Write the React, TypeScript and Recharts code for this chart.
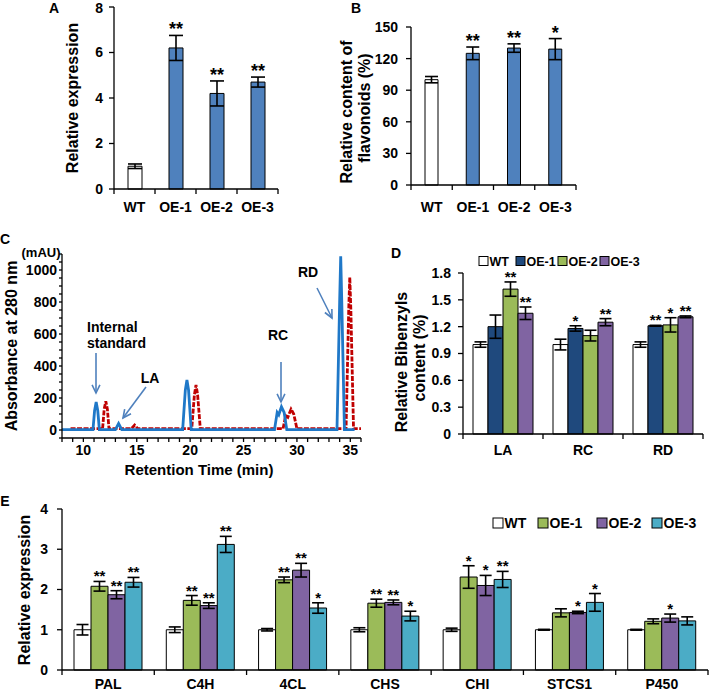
import React from 'react'
import { BarChart, Bar, XAxis, YAxis, ErrorBar, LabelList, LineChart, Line, Cell } from 'recharts'

const FONT = '"Liberation Sans", Arial, Helvetica, sans-serif'

// Panel A: relative expression of the transgene
const lines = ['WT', 'OE-1', 'OE-2', 'OE-3']
const aValues = [1.0, 6.2, 4.2, 4.7]
const aErrors = [0.1, 0.55, 0.55, 0.22]
const aStars = ['', '**', '**', '**']
const aTicks = [0, 2, 4, 6, 8]

// Panel B: relative content of flavonoids (%)
const bValues = [100, 125, 130, 129]
const bErrors = [3, 6, 4, 10]
const bStars = ['', '**', '**', '*']
const bTicks = [0, 30, 60, 90, 120, 150]

// Panel C: HPLC chromatogram, WT (solid) and OE (dashed)
const blueTime = [8.0, 10.9, 11.05, 11.2, 11.35, 11.5, 13.0, 13.3, 13.6, 19.3, 19.55, 19.7, 19.85, 20.1, 27.9, 28.15, 28.3, 28.55, 28.8, 29.05, 33.75, 34.0, 34.1, 34.2, 34.45, 35.4]
const blueAbs = [2, 2, 120, 175, 120, 2, 2, 40, 2, 2, 250, 312, 250, 2, 2, 110, 95, 145, 110, 2, 2, 800, 1085, 800, 2, 2]
const redTime = [8.8, 11.8, 11.95, 12.1, 12.25, 12.4, 14.5, 14.8, 15.1, 20.15, 20.4, 20.55, 20.7, 20.95, 28.7, 28.95, 29.15, 29.45, 29.7, 30.0, 34.6, 34.85, 34.95, 35.05, 35.3, 36.0]
const redAbs = [8, 8, 130, 180, 130, 8, 8, 30, 8, 8, 220, 282, 220, 8, 8, 90, 80, 130, 100, 8, 8, 750, 955, 750, 8, 8]
const cXTicks = [8, 9, 10, 11, 12, 13, 14, 15, 16, 17, 18, 19, 20, 21, 22, 23, 24, 25, 26, 27, 28, 29, 30, 31, 32, 33, 34, 35, 36]
const cYTicks = [-50, 0, 50, 100, 150, 200, 250, 300, 350, 400, 450, 500, 550, 600, 650, 700, 750, 800, 850, 900, 950, 1000, 1050, 1100]

// Panel D: relative bibenzyls content (%)
const compounds = ['LA', 'RC', 'RD']
const dWT = [1.0, 1.0, 1.0]
const dWTErr = [0.03, 0.06, 0.03]
const dOE1 = [1.2, 1.18, 1.21]
const dOE1Err = [0.13, 0.03, 0.005]
const dOE1Stars = ['', '*', '**']
const dOE2 = [1.62, 1.1, 1.22]
const dOE2Err = [0.08, 0.06, 0.08]
const dOE2Stars = ['**', '', '*']
const dOE3 = [1.35, 1.25, 1.31]
const dOE3Err = [0.07, 0.04, 0.01]
const dOE3Stars = ['**', '**', '**']
const dTicks = [0, 0.3, 0.6, 0.9, 1.2, 1.5, 1.8]

// Panel E: relative expression of pathway genes
const genes = ['PAL', 'C4H', '4CL', 'CHS', 'CHI', 'STCS1', 'P450']
const eWT = [1, 1, 1, 1, 1, 1, 1]
const eWTErr = [0.13, 0.07, 0.03, 0.05, 0.04, 0.01, 0.01]
const eOE1 = [2.08, 1.73, 2.24, 1.66, 2.31, 1.42, 1.21]
const eOE1Err = [0.12, 0.12, 0.07, 0.1, 0.28, 0.1, 0.06]
const eOE1Stars = ['**', '**', '**', '**', '*', '', '']
const eOE2 = [1.87, 1.6, 2.48, 1.68, 2.1, 1.43, 1.29]
const eOE2Err = [0.1, 0.07, 0.17, 0.06, 0.25, 0.03, 0.1]
const eOE2Stars = ['**', '**', '**', '**', '*', '*', '*']
const eOE3 = [2.18, 3.12, 1.54, 1.34, 2.25, 1.68, 1.22]
const eOE3Err = [0.12, 0.2, 0.13, 0.12, 0.2, 0.22, 0.1]
const eOE3Stars = ['**', '**', '*', '*', '**', '*', '']
const eTicks = [0, 1, 2, 3, 4]

const aData = lines.map((name, i) => ({ name, v: aValues[i], e: aErrors[i] }))
const bData = lines.map((name, i) => ({ name, v: bValues[i], e: bErrors[i] }))
const blueData = blueTime.map((t, i) => ({ t, a: blueAbs[i] }))
const redData = redTime.map((t, i) => ({ t, a: redAbs[i] }))
const dData = compounds.map((name, i) => ({
  name,
  wt: dWT[i], wtE: dWTErr[i],
  oe1: dOE1[i], oe1E: dOE1Err[i],
  oe2: dOE2[i], oe2E: dOE2Err[i],
  oe3: dOE3[i], oe3E: dOE3Err[i],
}))
const eData = genes.map((name, i) => ({
  name,
  wt: eWT[i], wtE: eWTErr[i],
  oe1: eOE1[i], oe1E: eOE1Err[i],
  oe2: eOE2[i], oe2E: eOE2Err[i],
  oe3: eOE3[i], oe3E: eOE3Err[i],
}))

const W = 709
const H = 693
const BLUE = '#4F81BD'
const NAVY = '#1F497D'
const GREEN = '#9BBB59'
const PURPLE = '#8064A2'
const CYAN = '#4BACC6'
const ARROW = '#4F81BD'

const axisLine = { stroke: '#000', strokeWidth: 1.3 }
const tickLineStyle = { stroke: '#000', strokeWidth: 1.3 }
const tickFont = { fill: '#000', fontSize: 14, fontWeight: 700, fontFamily: FONT }
const boldText = { fill: '#000', fontWeight: 700, fontFamily: FONT }

function catTick(band: number, count: number, dy: number) {
  return (props: any) => {
    const { x, y, payload, index } = props
    const left = x - band / 2
    return (
      <g>
        <line x1={left} x2={left} y1={y} y2={y + 5} stroke="#000" strokeWidth={1.3} />
        {index === count - 1 && (
          <line x1={left + band} x2={left + band} y1={y} y2={y + 5} stroke="#000" strokeWidth={1.3} />
        )}
        <text x={x} y={y + dy} textAnchor="middle" fontSize={14} {...boldText}>
          {payload.value}
        </text>
      </g>
    )
  }
}

function starLabel(errs: number[], stars: string[], fontSize: number) {
  return (props: any) => {
    const vb = props.viewBox || props
    const { x, y, width, height } = vb
    const { value, index } = props
    const s = stars[index]
    if (!s || !value) return null
    const top = y - (errs[index] * height) / value
    return (
      <text x={x + width / 2} y={top} textAnchor="middle" fontSize={fontSize} {...boldText}>
        {s}
      </text>
    )
  }
}

function PanelA() {
  return (
    <BarChart width={W} height={H} data={aData} margin={{ top: 7, left: 74, right: 431, bottom: 484 }}>
      <XAxis dataKey="name" height={20} axisLine={axisLine} tickLine={false} tickSize={0} tickMargin={0}
        tick={catTick(41, 4, 23)} interval={0} />
      <YAxis width={40} domain={[0, 8]} ticks={aTicks} axisLine={axisLine} tickLine={tickLineStyle}
        tickSize={5} tickMargin={6} tick={tickFont} />
      <Bar dataKey="v" barSize={14} isAnimationActive={false} stroke="#000" strokeWidth={1}>
        {aData.map((d, i) => (
          <Cell key={d.name} fill={i === 0 ? '#FFFFFF' : BLUE} />
        ))}
        <ErrorBar dataKey="e" width={7} stroke="#000" strokeWidth={1.6} isAnimationActive={false} />
        <LabelList dataKey="v" content={starLabel(aErrors, aStars, 18)} />
      </Bar>
    </BarChart>
  )
}

function PanelB() {
  return (
    <BarChart width={W} height={H} data={bData} margin={{ top: 27, left: 371, right: 133, bottom: 488 }}>
      <XAxis dataKey="name" height={20} axisLine={axisLine} tickLine={false} tickSize={0} tickMargin={0}
        tick={catTick(41.25, 4, 27)} interval={0} />
      <YAxis width={40} domain={[0, 150]} ticks={bTicks} axisLine={axisLine} tickLine={tickLineStyle}
        tickSize={5} tickMargin={8} tick={tickFont} />
      <Bar dataKey="v" barSize={13} isAnimationActive={false} stroke="#000" strokeWidth={1}>
        {bData.map((d, i) => (
          <Cell key={d.name} fill={i === 0 ? '#FFFFFF' : BLUE} />
        ))}
        <ErrorBar dataKey="e" width={6.5} stroke="#000" strokeWidth={1.6} isAnimationActive={false} />
        <LabelList dataKey="v" content={starLabel(bErrors, bStars, 18)} />
      </Bar>
    </BarChart>
  )
}

const CXTick = (props: any) => {
  const { x, y, payload } = props
  if (payload.value % 5 !== 0) return null
  return (
    <text x={x} y={y + 11} textAnchor="middle" fontSize={14} {...boldText}>
      {payload.value}
    </text>
  )
}

const CYTick = (props: any) => {
  const { x, y, payload } = props
  if (payload.value < 0 || payload.value % 200 !== 0) return null
  return (
    <text x={x} y={y} dy="0.355em" textAnchor="end" fontSize={14} {...boldText}>
      {payload.value}
    </text>
  )
}

function PanelC() {
  return (
    <LineChart width={W} height={H} margin={{ top: 254, left: 22, right: 348, bottom: 235 }}>
      <XAxis type="number" dataKey="t" domain={[8, 36]} ticks={cXTicks} interval={0} height={20}
        axisLine={axisLine} tickLine={tickLineStyle} tickSize={4} tickMargin={2} tick={CXTick}
        allowDataOverflow />
      <YAxis type="number" width={40} domain={[-50, 1100]} ticks={cYTicks} interval={0}
        axisLine={axisLine} tickLine={tickLineStyle} tickSize={3} tickMargin={2} tick={CYTick}
        allowDataOverflow />
      <Line data={redData} dataKey="a" type="linear" stroke="#C00000" strokeWidth={2.8}
        strokeDasharray="5 1.5" dot={false} isAnimationActive={false} />
      <Line data={blueData} dataKey="a" type="linear" stroke="#1F78C8" strokeWidth={2.8}
        dot={false} isAnimationActive={false} />
    </LineChart>
  )
}

function groupedBars(
  colors: string[],
  errs: number[][],
  stars: string[][],
  barSize: number,
  starSize: number,
  capWidth: number,
) {
  const keys = ['wt', 'oe1', 'oe2', 'oe3']
  return keys.map((k, j) => (
    <Bar key={k} dataKey={k} fill={colors[j]} barSize={barSize} isAnimationActive={false}
      stroke="#000" strokeWidth={1}>
      <ErrorBar dataKey={k + 'E'} width={capWidth} stroke="#000" strokeWidth={1.6} isAnimationActive={false} />
      <LabelList dataKey={k} content={starLabel(errs[j], stars[j], starSize)} />
    </Bar>
  ))
}

function PanelD() {
  const none = compounds.map(() => '')
  return (
    <BarChart width={W} height={H} data={dData} barGap={0}
      margin={{ top: 273, left: 423, right: 6, bottom: 239 }}>
      <XAxis dataKey="name" height={20} axisLine={axisLine} tickLine={false} tickSize={0} tickMargin={0}
        tick={catTick(80, 3, 21)} interval={0} />
      <YAxis width={40} domain={[0, 1.8]} ticks={dTicks} axisLine={axisLine} tickLine={tickLineStyle}
        tickSize={5} tickMargin={7} tick={tickFont} />
      {groupedBars(['#FFFFFF', NAVY, GREEN, PURPLE], [dWTErr, dOE1Err, dOE2Err, dOE3Err],
        [none, dOE1Stars, dOE2Stars, dOE3Stars], 15, 15, 6)}
    </BarChart>
  )
}

function PanelE() {
  const none = genes.map(() => '')
  return (
    <BarChart width={W} height={H} data={eData} barGap={0}
      margin={{ top: 509, left: 22, right: 1, bottom: 3 }}>
      <XAxis dataKey="name" height={20} axisLine={axisLine} tickLine={false} tickSize={0} tickMargin={0}
        tick={catTick(646 / 7, 7, 19)} interval={0} />
      <YAxis width={40} domain={[0, 4]} ticks={eTicks} axisLine={axisLine} tickLine={tickLineStyle}
        tickSize={5} tickMargin={9} tick={tickFont} />
      {groupedBars(['#FFFFFF', GREEN, PURPLE, CYAN], [eWTErr, eOE1Err, eOE2Err, eOE3Err],
        [none, eOE1Stars, eOE2Stars, eOE3Stars], 17, 15, 6)}
    </BarChart>
  )
}

function LegendRow({ x, y, colors, fontSize, box }: { x: number[]; y: number; colors: string[]; fontSize: number; box: number }) {
  return (
    <g>
      {lines.map((name, i) => (
        <g key={name}>
          <rect x={x[i]} y={y - box / 2} width={box} height={box} fill={colors[i]} stroke="#000" strokeWidth={1} />
          <text x={x[i] + box + 1.5} y={y + fontSize * 0.36} fontSize={fontSize} {...boldText}>{name}</text>
        </g>
      ))}
    </g>
  )
}

function Arrow({ x1, y1, x2, y2 }: { x1: number; y1: number; x2: number; y2: number }) {
  const ang = Math.atan2(y2 - y1, x2 - x1)
  const len = 9
  const a1 = ang + Math.PI - 0.45
  const a2 = ang + Math.PI + 0.45
  return (
    <g stroke={ARROW} strokeWidth={1.6} fill="none">
      <line x1={x1} y1={y1} x2={x2} y2={y2} />
      <polyline points={`${x2 + len * Math.cos(a1)},${y2 + len * Math.sin(a1)} ${x2},${y2} ${x2 + len * Math.cos(a2)},${y2 + len * Math.sin(a2)}`} />
    </g>
  )
}

function Overlay() {
  return (
    <svg width={W} height={H} style={{ position: 'absolute', left: 0, top: 0 }}>
      {/* panel letters */}
      <text x={54} y={13} textAnchor="middle" fontSize={14} {...boldText}>A</text>
      <text x={356} y={13} textAnchor="middle" fontSize={14} {...boldText}>B</text>
      <text x={5} y={244} textAnchor="middle" fontSize={14} {...boldText}>C</text>
      <text x={396} y={258} textAnchor="middle" fontSize={14} {...boldText}>D</text>
      <text x={5} y={506} textAnchor="middle" fontSize={14} {...boldText}>E</text>

      {/* axis titles */}
      <text transform="translate(78,98) rotate(-90)" textAnchor="middle" fontSize={16} {...boldText}>Relative expression</text>
      <text transform="translate(352,112) rotate(-90)" textAnchor="middle" fontSize={16} {...boldText}>Relative content of</text>
      <text transform="translate(370,108) rotate(-90)" textAnchor="middle" fontSize={16} {...boldText}>flavonoids (%)</text>
      <text transform="translate(17,346) rotate(-90)" textAnchor="middle" fontSize={16} {...boldText}>Absorbance at 280 nm</text>
      <text x={199} y={475} textAnchor="middle" fontSize={15} {...boldText}>Retention Time (min)</text>
      <text x={41} y={257} textAnchor="middle" fontSize={13} {...boldText}>(mAU)</text>
      <text transform="translate(407,362) rotate(-90)" textAnchor="middle" fontSize={16} {...boldText}>Relative Bibenzyls</text>
      <text transform="translate(425,358) rotate(-90)" textAnchor="middle" fontSize={16} {...boldText}>content (%)</text>
      <text transform="translate(30,590) rotate(-90)" textAnchor="middle" fontSize={16} {...boldText}>Relative expression</text>

      {/* chromatogram annotations */}
      <text x={87} y={332} fontSize={14} {...boldText}>Internal</text>
      <text x={87} y={348} fontSize={14} {...boldText}>standard</text>
      <text x={150} y={383} textAnchor="middle" fontSize={14} {...boldText}>LA</text>
      <text x={278} y={340} textAnchor="middle" fontSize={14} {...boldText}>RC</text>
      <text x={308} y={277} textAnchor="middle" fontSize={14} {...boldText}>RD</text>
      <Arrow x1={96} y1={353} x2={96} y2={393} />
      <Arrow x1={146} y1={387} x2={123} y2={418} />
      <Arrow x1={281} y1={362} x2={281} y2={402} />
      <Arrow x1={317} y1={288} x2={332} y2={318} />

      {/* legends */}
      <LegendRow x={[479, 516, 558, 600]} y={261} colors={['#FFFFFF', NAVY, GREEN, PURPLE]} fontSize={12.5} box={9} />
      <LegendRow x={[493, 538, 597, 652]} y={523} colors={['#FFFFFF', GREEN, PURPLE, CYAN]} fontSize={14} box={10} />
    </svg>
  )
}

export default function App() {
  const layer: React.CSSProperties = { position: 'absolute', left: 0, top: 0 }
  return (
    <div style={{ position: 'absolute', left: 0, top: 0, width: W, height: H, background: '#fff', fontFamily: FONT }}>
      <div style={layer}><PanelA /></div>
      <div style={layer}><PanelB /></div>
      <div style={layer}><PanelC /></div>
      <div style={layer}><PanelD /></div>
      <div style={layer}><PanelE /></div>
      <Overlay />
    </div>
  )
}
